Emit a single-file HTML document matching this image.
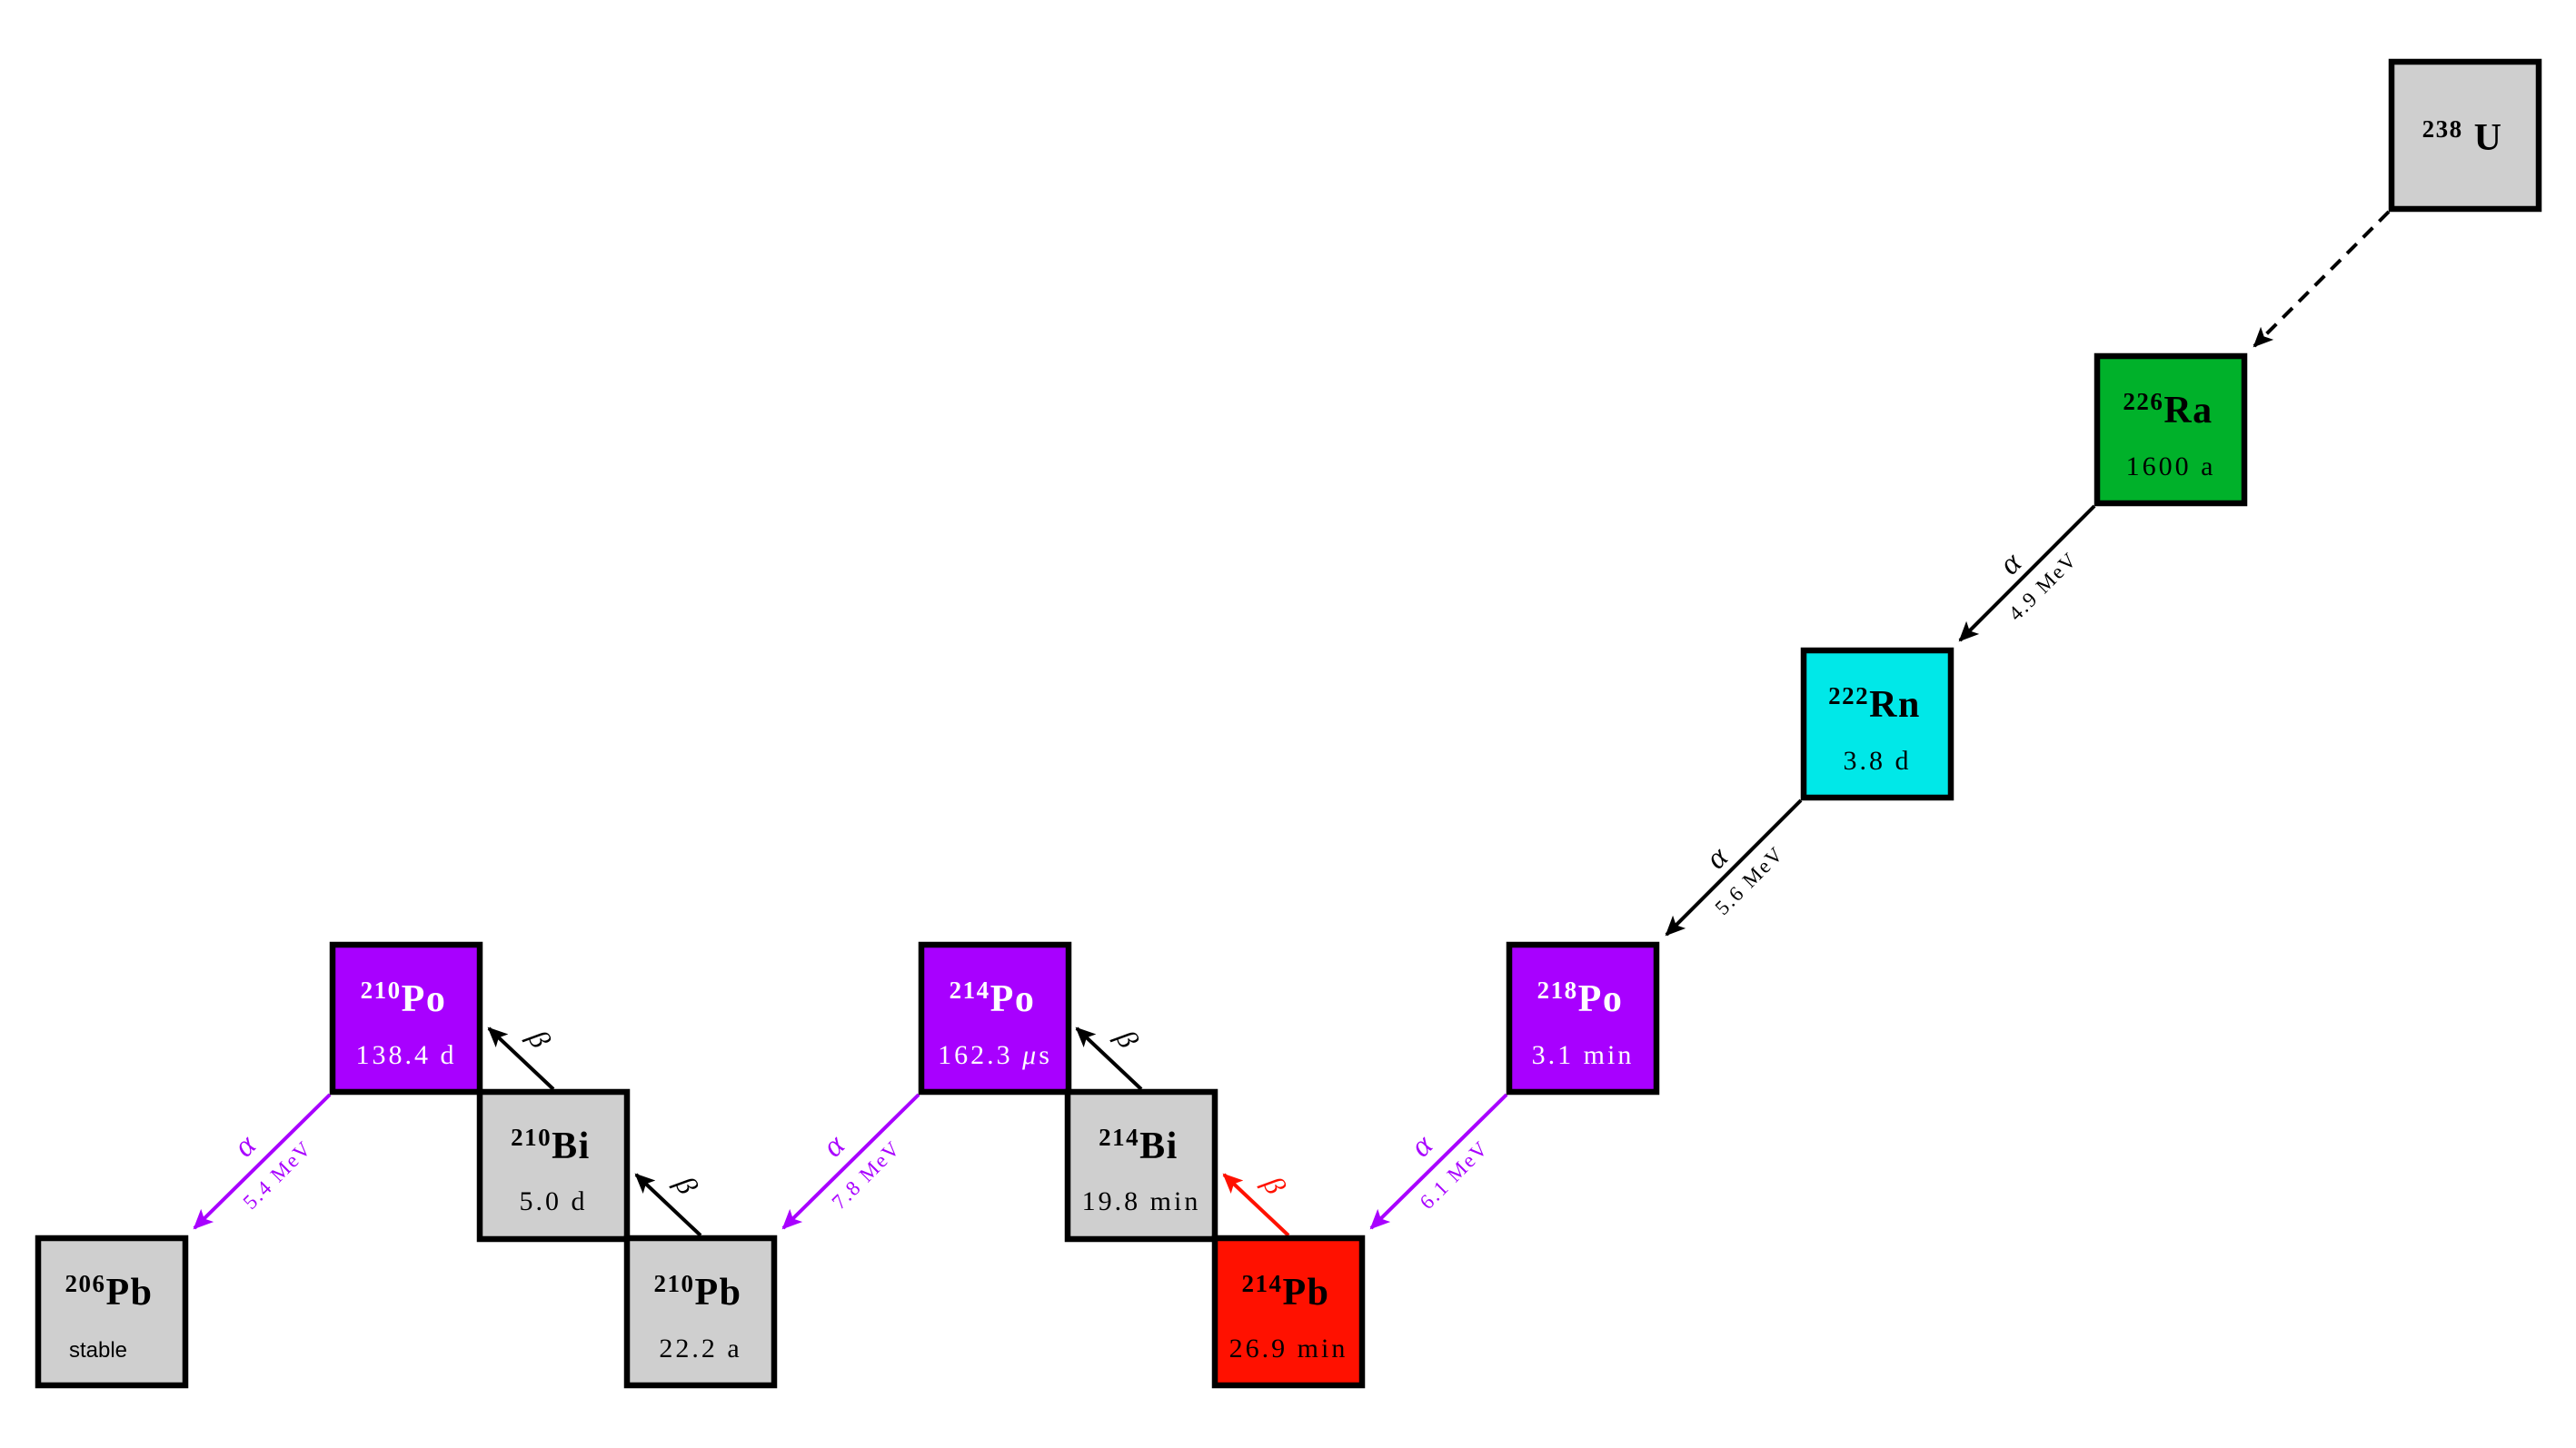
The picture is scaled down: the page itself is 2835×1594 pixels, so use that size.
<!DOCTYPE html>
<html><head><meta charset="utf-8"><style>
html,body{margin:0;padding:0;background:#fff;}
svg{display:block;}
.el{font-family:"Liberation Serif",serif;font-weight:bold;letter-spacing:1.5px;}
.hl{font-family:"Liberation Serif",serif;font-size:30px;letter-spacing:3px;}
.lab{font-family:"Liberation Serif",serif;}
.mev{letter-spacing:2px;}
</style></head><body>
<svg width="2835" height="1594" viewBox="0 0 2835 1594" xmlns="http://www.w3.org/2000/svg">
<defs>
<marker id="hk" markerUnits="userSpaceOnUse" markerWidth="24" markerHeight="20" refX="20" refY="10" orient="auto"><path d="M0,0 L22,10 L0,20 L5,10 Z" fill="#000"/></marker>
<marker id="hp" markerUnits="userSpaceOnUse" markerWidth="24" markerHeight="20" refX="20" refY="10" orient="auto"><path d="M0,0 L22,10 L0,20 L5,10 Z" fill="#a800ff"/></marker>
<marker id="hr" markerUnits="userSpaceOnUse" markerWidth="24" markerHeight="20" refX="20" refY="10" orient="auto"><path d="M0,0 L22,10 L0,20 L5,10 Z" fill="#ff1100"/></marker>
</defs>

<line x1="2629" y1="233" x2="2481" y2="381" stroke="#000" stroke-width="4" stroke-dasharray="15,10" marker-end="url(#hk)"/>
<line x1="2305" y1="557" x2="2157" y2="705" stroke="#000" stroke-width="4" marker-end="url(#hk)"/>
<line x1="1982" y1="881" x2="1834" y2="1029" stroke="#000" stroke-width="4" marker-end="url(#hk)"/>
<line x1="1658" y1="1205" x2="1509" y2="1352" stroke="#a800ff" stroke-width="4" marker-end="url(#hp)"/>
<line x1="1011" y1="1205" x2="862" y2="1352" stroke="#a800ff" stroke-width="4" marker-end="url(#hp)"/>
<line x1="363" y1="1205" x2="214" y2="1352" stroke="#a800ff" stroke-width="4" marker-end="url(#hp)"/>

<g class="lab" text-anchor="middle">
<text transform="translate(2213,621) rotate(-45)" font-size="34" font-style="italic" dy="10">α</text>
<text class="mev" transform="translate(2248,645) rotate(-45)" font-size="23" dy="8">4.9 MeV</text>
<text transform="translate(1890,945) rotate(-45)" font-size="34" font-style="italic" dy="10">α</text>
<text class="mev" transform="translate(1925,969) rotate(-45)" font-size="23" dy="8">5.6 MeV</text>
<g fill="#a800ff">
<text transform="translate(1565,1262) rotate(-45)" font-size="34" font-style="italic" dy="10">α</text>
<text class="mev" transform="translate(1600,1293) rotate(-45)" font-size="23" dy="8">6.1 MeV</text>
<text transform="translate(918,1262) rotate(-45)" font-size="34" font-style="italic" dy="10">α</text>
<text class="mev" transform="translate(953,1293) rotate(-45)" font-size="23" dy="8">7.8 MeV</text>
<text transform="translate(270,1262) rotate(-45)" font-size="34" font-style="italic" dy="10">α</text>
<text class="mev" transform="translate(305,1293) rotate(-45)" font-size="23" dy="8">5.4 MeV</text>
</g>
</g>

<line x1="1418" y1="1360" x2="1347" y2="1293" stroke="#ff1100" stroke-width="4" marker-end="url(#hr)"/>
<line x1="1256" y1="1199" x2="1185" y2="1132" stroke="#000" stroke-width="4" marker-end="url(#hk)"/>
<line x1="771" y1="1360" x2="700" y2="1293" stroke="#000" stroke-width="4" marker-end="url(#hk)"/>
<line x1="609" y1="1199" x2="538" y2="1132" stroke="#000" stroke-width="4" marker-end="url(#hk)"/>
<g class="lab" text-anchor="middle" font-size="32" font-style="italic">
<text transform="translate(1402,1305) rotate(60)" dy="10" fill="#ff1100">β</text>
<text transform="translate(1240,1144) rotate(60)" dy="10">β</text>
<text transform="translate(755,1305) rotate(60)" dy="10">β</text>
<text transform="translate(593,1144) rotate(60)" dy="10">β</text>
</g>

<g stroke="#000" stroke-width="6.5">
<rect x="2632" y="68" width="162" height="162" fill="#cfcfcf"/>
<rect x="2308" y="392" width="162" height="162" fill="#00b12a"/>
<rect x="1985" y="716" width="162" height="162" fill="#00e8e8"/>
<rect x="1661" y="1040" width="162" height="162" fill="#a800ff"/>
<rect x="1014" y="1040" width="162" height="162" fill="#a800ff"/>
<rect x="366" y="1040" width="162" height="162" fill="#a800ff"/>
<rect x="1175" y="1202" width="162" height="162" fill="#cfcfcf"/>
<rect x="528" y="1202" width="162" height="162" fill="#cfcfcf"/>
<rect x="1337" y="1363" width="162" height="162" fill="#ff1100"/>
<rect x="690" y="1363" width="162" height="162" fill="#cfcfcf"/>
<rect x="42" y="1363" width="162" height="162" fill="#cfcfcf"/>
</g>

<g class="el" text-anchor="middle">
<text x="2710" y="165" fill="#000"><tspan font-size="27" dy="-14">238</tspan><tspan font-size="42" dy="14"> U</tspan></text>
<text x="2386" y="465" fill="#000"><tspan font-size="27" dy="-14">226</tspan><tspan font-size="42" dy="14">Ra</tspan></text>
<text x="2063" y="789" fill="#000"><tspan font-size="27" dy="-14">222</tspan><tspan font-size="42" dy="14">Rn</tspan></text>
<text x="1739" y="1113" fill="#fff"><tspan font-size="27" dy="-14">218</tspan><tspan font-size="42" dy="14">Po</tspan></text>
<text x="1092" y="1113" fill="#fff"><tspan font-size="27" dy="-14">214</tspan><tspan font-size="42" dy="14">Po</tspan></text>
<text x="444" y="1113" fill="#fff"><tspan font-size="27" dy="-14">210</tspan><tspan font-size="42" dy="14">Po</tspan></text>
<text x="1253" y="1275" fill="#000"><tspan font-size="27" dy="-14">214</tspan><tspan font-size="42" dy="14">Bi</tspan></text>
<text x="606" y="1275" fill="#000"><tspan font-size="27" dy="-14">210</tspan><tspan font-size="42" dy="14">Bi</tspan></text>
<text x="1415" y="1436" fill="#000"><tspan font-size="27" dy="-14">214</tspan><tspan font-size="42" dy="14">Pb</tspan></text>
<text x="768" y="1436" fill="#000"><tspan font-size="27" dy="-14">210</tspan><tspan font-size="42" dy="14">Pb</tspan></text>
<text x="120" y="1436" fill="#000"><tspan font-size="27" dy="-14">206</tspan><tspan font-size="42" dy="14">Pb</tspan></text>
</g>
<g class="hl" text-anchor="middle">
<text x="2389" y="523" fill="#000">1600 a</text>
<text x="2066" y="847" fill="#000">3.8 d</text>
<text x="1742" y="1171" fill="#fff">3.1 min</text>
<text x="1095" y="1171" fill="#fff">162.3 <tspan font-style="italic">μ</tspan>s</text>
<text x="447" y="1171" fill="#fff">138.4 d</text>
<text x="1256" y="1332" fill="#000">19.8 min</text>
<text x="609" y="1332" fill="#000">5.0 d</text>
<text x="1418" y="1494" fill="#000">26.9 min</text>
<text x="771" y="1494" fill="#000">22.2 a</text>
<text x="108" y="1494" fill="#000" font-family="Liberation Sans, sans-serif" font-size="24" letter-spacing="0">stable</text>
</g>
</svg>
</body></html>
